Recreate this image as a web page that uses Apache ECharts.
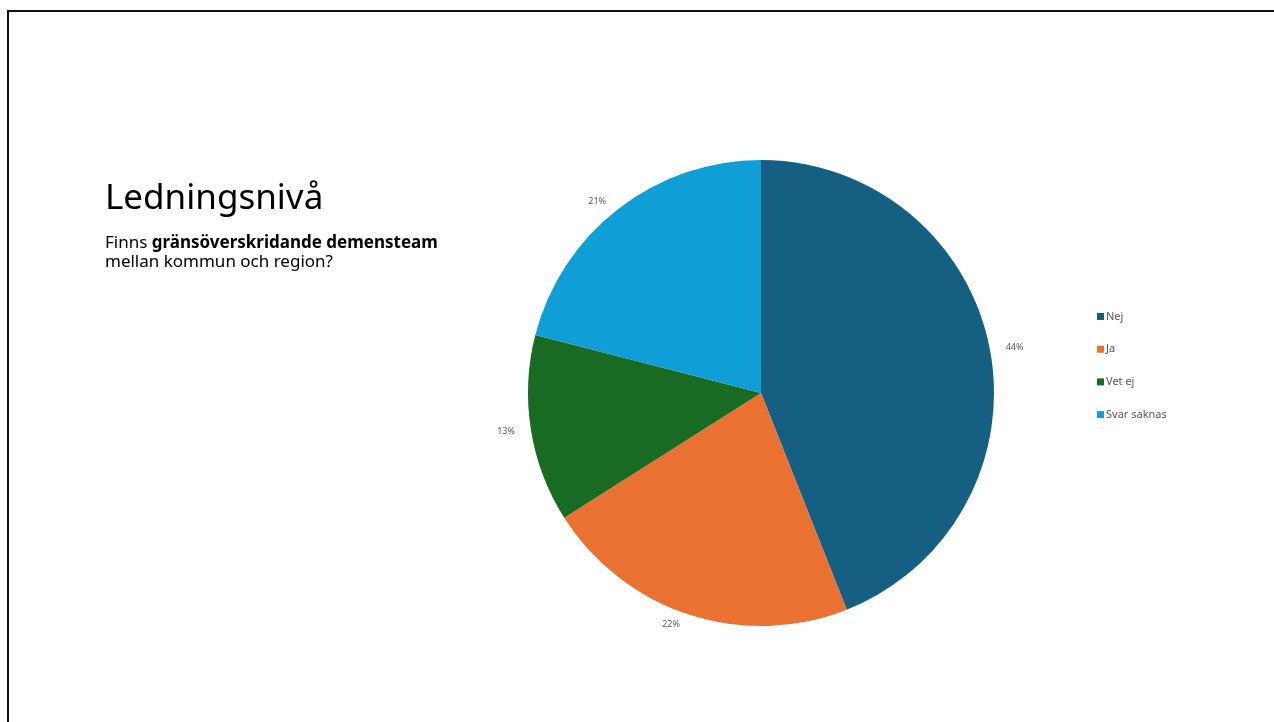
<!DOCTYPE html>
<html>
<head>
<meta charset="utf-8">
<script src="https://cdn.jsdelivr.net/npm/echarts@6/dist/echarts.min.js"></script>
<style>
html,body{margin:0;padding:0;background:#fff;}
#frame{position:absolute;left:7px;top:10px;right:-10px;bottom:-10px;border-top:2px solid #111;border-left:2px solid #111;}
#chart{position:absolute;left:0;top:0;width:1274px;height:722px;}
</style>
</head>
<body>
<div id="frame"></div>
<div id="chart"></div>
<script>
const categories = ['Nej', 'Ja', 'Vet ej', 'Svar saknas'];
const values = [44, 22, 13, 21];
const colors = ['#156082', '#E97132', '#196B24', '#0F9ED5'];
const titleText = 'Ledningsnivå';

const chart = echarts.init(document.getElementById('chart'));
chart.setOption({
  backgroundColor: 'transparent',
  animation: false,
  color: colors,
  title: {
    text: titleText,
    left: 100,
    top: 177,
    itemGap: 17,
    textStyle: { fontFamily: 'Noto Sans', fontSize: 35, fontWeight: 'normal', color: '#000' },
    subtext: '{n|Finns }{b|gränsöverskridande demensteam}\n{n|mellan kommun och region?}',
    subtextStyle: {
      rich: {
        n: { fontFamily: 'Noto Sans', fontSize: 17, color: '#000', lineHeight: 19 },
        b: { fontFamily: 'Noto Sans', fontSize: 17, fontWeight: 'bold', color: '#000', lineHeight: 19 }
      }
    }
  },
  legend: {
    orient: 'vertical',
    left: 1092,
    top: 306,
    itemWidth: 7,
    itemHeight: 7,
    itemGap: 21.7,
    icon: 'rect',
    textStyle: { fontFamily: 'Noto Sans', fontSize: 11, color: '#595959', padding: [0, 0, 0, -3] },
    data: categories
  },
  series: [{
    type: 'pie',
    center: [761, 393],
    radius: 233,
    startAngle: 90,
    clockwise: true,
    data: categories.map((c, i) => ({ name: c, value: values[i] })),
    label: {
      show: true,
      position: 'outside',
      formatter: p => Math.round(p.percent) + '%',
      fontFamily: 'Noto Sans',
      fontSize: 9,
      color: '#595959'
    },
    labelLine: { show: false, length: 10, length2: 1 },
    itemStyle: { borderWidth: 0 },
    emphasis: { disabled: true }
  }]
});
</script>
</body>
</html>
